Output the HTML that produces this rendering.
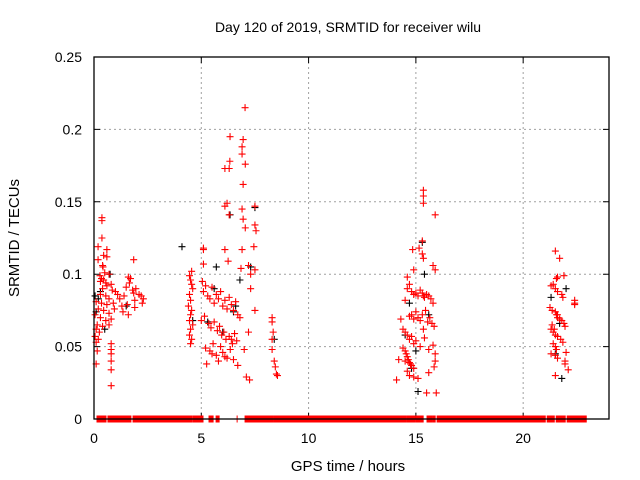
<!DOCTYPE html>
<html><head><meta charset="utf-8"><style>
body{margin:0;background:#fff}
svg{display:block;font-family:"Liberation Sans",sans-serif}
</style></head><body>
<svg id="chart" width="640" height="480" viewBox="0 0 640 480">
<text x="348" y="32" text-anchor="middle" font-size="14">Day 120 of 2019, SRMTID for receiver wilu</text>
<text x="348" y="471" text-anchor="middle" font-size="15">GPS time / hours</text>
<text transform="translate(19,238) rotate(-90)" text-anchor="middle" font-size="15">SRMTID / TECUs</text>
<g id="grid"></g>
<g id="ticks"></g>
<g id="black"></g>
<g id="red"></g>
<rect x="94" y="57" width="515" height="362" fill="none" stroke="#000" stroke-width="1.3"/>
</svg>
<script>
const xTicks=[0,5,10,15,20];
const xTickLabels=["0","5","10","15","20"];
const yTicks=[0,0.05,0.1,0.15,0.2,0.25];
const yTickLabels=["0","0.05","0.1","0.15","0.2","0.25"];
const zeroRanges=[[0.14,0.56],[0.65,1.45],[1.49,1.72],[1.82,4.57],[4.62,5.08],[5.36,5.55],[5.69,5.83],[6.67,6.67],[7.04,7.6],[7.6,8.35],[8.39,8.58],[8.62,14.55],[14.59,14.97],[15.01,15.34],[15.52,15.76],[15.8,15.9],[15.99,21.03],[21.12,21.45],[21.54,21.96],[22.05,22.8],[22.8,22.94]];
const redHours=[0.37,0.37,0.37,0.19,0.6,0.6,0.19,0.45,0.4,0.42,1.85,0.28,0.5,0.7,0.35,0.45,0.55,0.6,0.3,1.6,1.7,1.65,0.4,0.8,0.85,1.0,1.5,1.8,1.85,1.95,0.3,0.55,0.7,1.1,1.2,1.4,1.9,0.1,0.35,0.6,0.9,1.3,1.55,0.2,0.45,0.7,0.95,1.35,1.6,1.9,0.05,0.3,0.55,0.8,0.15,0.4,0.7,0.1,0.25,0.05,0.2,0.1,0.8,0.8,0.8,0.8,0.8,0.8,0.15,0.1,2.2,2.3,2.25,2.1,
7.04,6.34,6.95,6.9,6.9,6.33,6.1,6.3,7.05,6.95,6.2,6.9,7.5,6.1,6.3,6.95,7.05,7.5,7.55,5.1,5.1,6.1,6.9,7.45,5.1,6.25,6.85,7.2,7.3,7.5,4.55,
4.45,4.5,4.55,4.6,4.45,4.5,4.4,4.55,4.5,4.45,4.6,4.5,4.45,4.55,4.5,5.05,5.1,5.2,5.3,5.4,5.5,5.6,5.7,5.8,5.9,6.0,6.1,6.2,6.3,6.4,6.5,6.6,6.7,6.8,5.0,5.15,5.35,5.45,5.6,5.75,5.85,5.95,6.05,6.15,6.3,6.45,6.55,6.65,5.2,5.4,5.55,5.7,5.9,6.0,6.2,6.35,6.5,5.25,5.5,5.8,6.1,6.4,6.7,7.0,7.2,7.3,7.5,8.3,8.3,8.35,8.3,8.3,8.4,8.45,8.5,8.55,7.1,7.25,
15.35,15.35,15.35,15.35,15.35,15.9,15.3,14.85,15.15,15.3,15.35,15.8,14.9,15.9,14.6,14.7,14.8,14.9,15.0,15.1,15.2,15.3,15.4,15.5,15.6,15.7,15.8,14.5,14.6,14.7,14.8,14.9,15.0,15.1,15.2,15.3,15.45,15.55,15.65,15.75,15.85,14.3,14.4,14.5,14.6,14.7,14.8,14.9,15.0,15.2,15.4,15.6,15.8,14.4,14.5,14.55,14.6,14.65,14.7,14.75,14.8,14.9,15.9,15.85,15.9,14.2,14.5,14.6,14.7,15.1,14.1,14.9,15.95,15.5,15.6,
21.35,21.45,21.5,21.7,21.9,21.6,21.55,21.4,21.3,21.5,21.6,21.8,21.85,22.4,22.4,22.4,21.25,21.35,21.5,21.55,21.6,21.7,21.8,21.9,21.95,21.3,21.4,21.5,21.6,21.75,21.85,21.4,21.5,21.55,22.0,21.3,21.5,21.6,21.95,21.95,22.1,21.5,21.6];
const redValues=[0.139,0.137,0.125,0.119,0.117,0.112,0.110,0.113,0.106,0.105,0.110,0.099,0.101,0.100,0.097,0.096,0.094,0.092,0.095,0.098,0.097,0.094,0.090,0.093,0.089,0.088,0.091,0.089,0.087,0.090,0.086,0.085,0.083,0.086,0.083,0.085,0.082,0.081,0.080,0.079,0.080,0.078,0.079,0.076,0.075,0.073,0.076,0.074,0.072,0.077,0.072,0.070,0.068,0.069,0.065,0.064,0.065,0.062,0.060,0.057,0.055,0.053,0.052,0.048,0.045,0.040,0.034,0.023,0.047,0.038,0.085,0.083,0.080,0.086,
0.215,0.195,0.193,0.188,0.183,0.178,0.173,0.173,0.176,0.162,0.149,0.145,0.147,0.147,0.141,0.138,0.132,0.134,0.130,0.118,0.117,0.117,0.117,0.119,0.107,0.109,0.104,0.106,0.100,0.103,0.102,
0.099,0.096,0.093,0.090,0.086,0.082,0.078,0.075,0.072,0.068,0.065,0.062,0.058,0.055,0.052,0.095,0.088,0.092,0.085,0.083,0.091,0.080,0.086,0.083,0.088,0.078,0.082,0.076,0.084,0.079,0.075,0.081,0.072,0.070,0.068,0.071,0.066,0.063,0.067,0.061,0.064,0.058,0.060,0.055,0.057,0.052,0.059,0.054,0.049,0.047,0.052,0.044,0.050,0.046,0.042,0.048,0.041,0.038,0.045,0.040,0.043,0.055,0.037,0.048,0.060,0.090,0.075,0.067,0.070,0.060,0.055,0.048,0.040,0.036,0.031,0.030,0.029,0.027,0.085,0.062,
0.158,0.154,0.149,0.141,0.123,0.117,0.118,0.114,0.111,0.106,0.103,0.103,0.098,0.093,0.088,0.086,0.087,0.085,0.089,0.087,0.084,0.086,0.085,0.083,0.080,0.082,0.090,0.071,0.072,0.069,0.074,0.070,0.068,0.072,0.075,0.067,0.070,0.066,0.064,0.069,0.062,0.060,0.058,0.055,0.057,0.052,0.054,0.050,0.056,0.048,0.051,0.049,0.047,0.045,0.043,0.041,0.039,0.038,0.037,0.035,0.040,0.036,0.045,0.041,0.040,0.033,0.030,0.028,0.027,0.029,0.018,0.018,0.032,0.065,0.062,
0.116,0.111,0.099,0.098,0.097,0.093,0.092,0.090,0.088,0.086,0.084,0.082,0.080,0.079,0.077,0.075,0.074,0.072,0.070,0.069,0.068,0.066,0.064,0.062,0.060,0.058,0.057,0.055,0.053,0.052,0.050,0.048,0.046,0.045,0.044,0.042,0.040,0.038,0.034,0.030,0.072,0.085,0.088];
const blackHours=[0.3,0.1,0.5,0.75,0.2,1.5,4.1,6.34,7.5,7.3,5.6,6.0,5.7,8.4,6.6,5.3,15.3,15.1,14.7,15.0,14.5,15.6,21.8,21.5,22.0,21.3,21.7,6.8,6.5,0.05,4.6,15.4,14.8];
const blackValues=[0.088,0.074,0.062,0.100,0.083,0.078,0.119,0.141,0.146,0.105,0.090,0.060,0.105,0.055,0.078,0.067,0.122,0.019,0.080,0.047,0.058,0.072,0.028,0.045,0.090,0.084,0.066,0.096,0.074,0.085,0.068,0.100,0.035];

const L=94,R=609,T=57,B=419,XMAX=24,YMAX=0.25;
const xs=h=>L+h/XMAX*(R-L);
const ys=v=>B-v/YMAX*(B-T);
const NS="http://www.w3.org/2000/svg";
function mk(tag,attrs,parent){const e=document.createElementNS(NS,tag);for(const k in attrs)e.setAttribute(k,attrs[k]);parent.appendChild(e);return e;}
const grid=document.getElementById('grid'),ticks=document.getElementById('ticks');
xTicks.forEach((t,i)=>{const x=xs(t);
 if(t>0){const g=mk('line',{x1:x,x2:x,y1:T,y2:B,stroke:'#a0a0a0','stroke-dasharray':'2,3'},grid);
 
 }
 const tk=mk('path',{d:`M${x},${B}v-6M${x},${T}v6`,stroke:'#000'},ticks);
 
 
 const lb=mk('text',{x:x,y:B+24,'text-anchor':'middle','font-size':14},ticks);lb.textContent=xTickLabels[i];
 
 });
yTicks.forEach((t,i)=>{const y=ys(t);
 if(t>0&&t<YMAX){const g=mk('line',{x1:L,x2:R,y1:y,y2:y,stroke:'#a0a0a0','stroke-dasharray':'2,3'},grid);
 
 }
 const tk=mk('path',{d:`M${L},${y}h6M${R},${y}h-6`,stroke:'#000'},ticks);
 
 
 const lb=mk('text',{x:L-12,y:y+5,'text-anchor':'end','font-size':14},ticks);lb.textContent=yTickLabels[i];
 
 });
function plus(g,h,v,c){const x=xs(h),y=ys(v);
 const p=mk('path',{d:`M${x-3.5},${y}h7M${x},${y-3.5}v7`,stroke:c,'stroke-width':1.1},g);
 
 }
const bg=document.getElementById('black'),rg=document.getElementById('red');
blackHours.forEach((h,i)=>plus(bg,h,blackValues[i],'#000'));
redHours.forEach((h,i)=>plus(rg,h,redValues[i],'#f00'));
zeroRanges.forEach(r=>{const x1=xs(r[0])-0.5,x2=xs(r[1])+0.5;
 const z=mk('rect',{x:x1,y:ys(0)-3.5,width:x2-x1,height:7,fill:'#f00'},rg);
 
 });
</script>
</body></html>
